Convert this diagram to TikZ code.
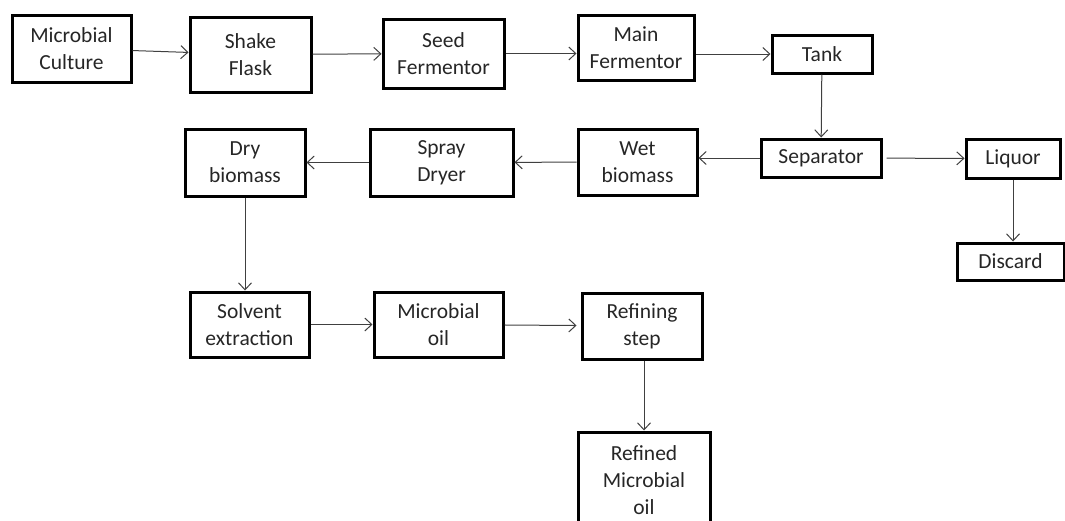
\documentclass[tikz,border=0pt]{standalone}
\usepackage{fontspec}
\setmainfont{Carlito}
\usetikzlibrary{arrows.meta}

\begin{document}
\begin{tikzpicture}[x=1pt, y=-1pt,
    box/.style={draw=black, line width=3pt, fill=white, text=black!85, align=center,
      inner sep=0pt, font=\fontsize{21.5}{27}\selectfont},
    flow/.style={draw=black!75, line width=1pt, -{Straight Barb[length=7pt,width=13pt]}}]
  \useasboundingbox (0,0) rectangle (1065,520);
  \node[box, minimum width=119pt, minimum height=67pt] (culture) at (71.5,48.5) {Microbial\\Culture};
  \node[box, minimum width=121pt, minimum height=75pt] (shake) at (250.5,54.5) {Shake\\Flask};
  \node[box, minimum width=121pt, minimum height=69pt] (seed) at (443.5,53.5) {Seed\\Fermentor};
  \node[box, minimum width=116pt, minimum height=65pt] (main) at (636,47.5) {Main\\Fermentor};
  \node[box, minimum width=100pt, minimum height=38pt] (tank) at (822,54) {Tank};
  \node[box, minimum width=120pt, minimum height=38pt] (sep) at (821,158) {Separator};
  \node[box, minimum width=94pt, minimum height=39pt] (liquor) at (1013,158.5) {Liquor};
  \node[box, minimum width=107pt, minimum height=37pt] (discard) at (1010.5,261.5) {Discard};
  \node[box, minimum width=119pt, minimum height=66pt] (wet) at (637.5,162) {Wet\\biomass};
  \node[box, minimum width=143pt, minimum height=67pt] (spray) at (441.5,162.5) {Spray\\Dryer};
  \node[box, minimum width=120pt, minimum height=67pt] (dry) at (245,162.5) {Dry\\biomass};
  \node[box, minimum width=119pt, minimum height=65pt] (solvent) at (249.5,324.5) {Solvent\\extraction};
  \node[box, minimum width=129pt, minimum height=65pt] (moil) at (438.5,324.5) {Microbial\\oil};
  \node[box, minimum width=120pt, minimum height=66pt] (refining) at (642,326) {Refining\\step};
  \node[box, minimum width=132pt, minimum height=96pt] (refined) at (644,480) {Refined\\Microbial\\oil};

  \draw[flow] (culture) -- (shake);
  \draw[flow] (shake) -- (seed);
  \draw[flow] (seed.east) -- (seed.east -| main.west);
  \draw[flow] (tank.west -| main.east) -- (tank.west);
  \draw[flow] (tank) -- (sep);
  \draw[flow] (sep.west) -- (sep.west -| wet.east);
  \draw[flow, shorten <=4pt] (sep) -- (liquor);
  \draw[flow] (liquor.south) -- (liquor.south |- discard.north);
  \draw[flow] (wet) -- (spray);
  \draw[flow] (spray) -- (dry);
  \draw[flow] (dry.south) -- (dry.south |- solvent.north);
  \draw[flow] (solvent) -- (moil);
  \draw[flow, shorten >=4pt] (moil) -- (refining);
  \draw[flow] (refining.south -| refined.north) -- (refined.north);
\end{tikzpicture}
\end{document}
